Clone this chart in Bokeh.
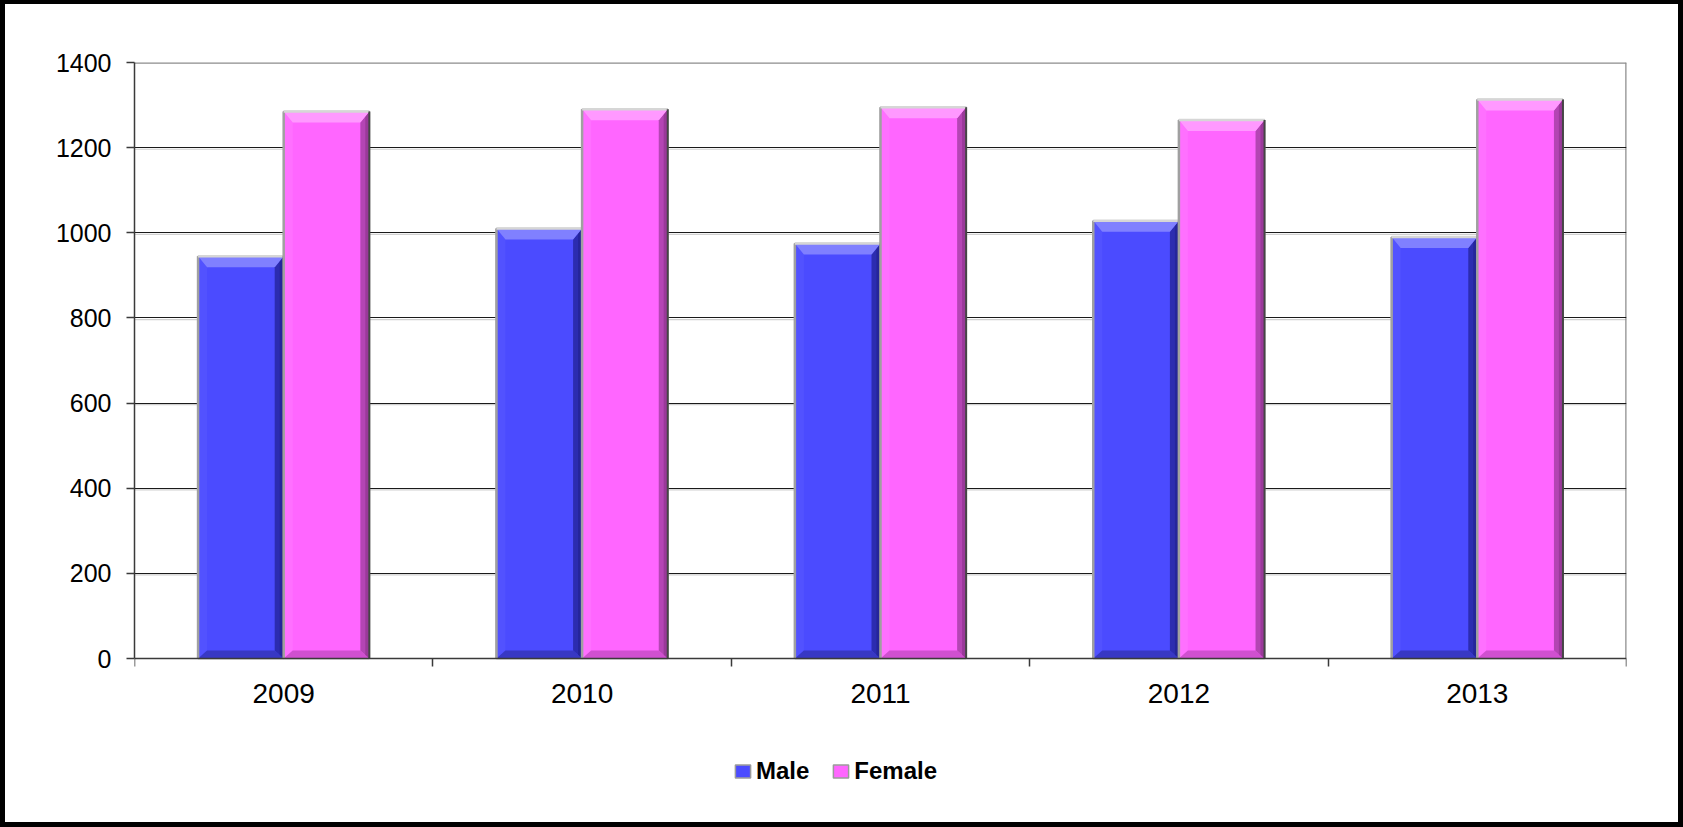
import numpy as np
from bokeh.plotting import figure
from bokeh.models import FixedTicker, Legend, LegendItem, Range1d
from bokeh.embed import file_html
from bokeh.resources import INLINE

# ---- data ----
years = ["2009", "2010", "2011", "2012", "2013"]
male = [945, 1010, 975, 1028, 990]
female = [1285, 1290, 1295, 1265, 1313]
y_ticks = [0, 200, 400, 600, 800, 1000, 1200, 1400]
series_names = ["Male", "Female"]

# ---- layout / styles ----
FONT = "Liberation Sans"
W, H = 1673, 818
ML, MR, MT = 129, 52, 58
PLOT_BOTTOM = 654          # canvas y of the value-0 line
BAR_W = 0.287
px_x = (W - ML - MR) / len(years)
px_y = (PLOT_BOTTOM - MT) / (y_ticks[-1] - y_ticks[0])
y_min = y_ticks[0] - (H - PLOT_BOTTOM) / px_y   # frame extends to canvas bottom (room for legend)

styles = {
    "Male": dict(main="#4B4BFF", top="#8080FF", right="#2C2CB0", bottom="#3838C4", left="#5252FF", dark="#1C1C80"),
    "Female": dict(main="#FF66FF", top="#FF99FF", right="#B445B4", bottom="#D050D0", left="#FF70FF", dark="#7A2A7A"),
}

p = figure(width=W, height=H, output_backend="svg", toolbar_location=None,
           x_range=Range1d(0, len(years)), y_range=Range1d(y_min, y_ticks[-1]),
           x_axis_location="above",
           min_border_left=ML, min_border_right=MR, min_border_top=MT, min_border_bottom=0,
           background_fill_color="white", border_fill_color="white")
p.styles = {"margin-left": "5px", "margin-top": "4px", "outline": "5px solid black"}
p.outline_line_color = None

# grid
p.xgrid.visible = False
p.ygrid.ticker = FixedTicker(ticks=y_ticks[1:-1])
p.ygrid.grid_line_color = "#1A1A1A"
p.ygrid.grid_line_width = 1.2
n_g = len(y_ticks) - 2
p.segment(x0=[0] * n_g, x1=[len(years)] * n_g,
          y0=[t - 1.6 / px_y for t in y_ticks[1:-1]], y1=[t - 1.6 / px_y for t in y_ticks[1:-1]],
          line_color="#D0D0D0", line_width=1.2, level="underlay")
# plot-area border (top and right)
p.segment(x0=[0, len(years)], y0=[y_ticks[-1], y_ticks[0]], x1=[len(years), len(years)],
          y1=[y_ticks[-1], y_ticks[-1]], line_color="#8C8C8C", line_width=2.5, level="underlay")

# y axis
ya = p.yaxis[0]
ya.ticker = FixedTicker(ticks=y_ticks)
ya.bounds = (y_ticks[0], y_ticks[-1])
ya.axis_line_color = "#3A3A3A"
ya.axis_line_width = 1.5
ya.major_tick_line_color = "#3A3A3A"
ya.major_tick_line_width = 1.5
ya.major_tick_in = 0
ya.major_tick_out = 8
ya.minor_tick_line_color = None
ya.major_label_text_font = FONT
ya.major_label_text_font_size = "25px"
ya.major_label_text_color = "black"
ya.major_label_standoff = 15

# x axis: drawn at value 0, ticks and labels pointing down
xa = p.xaxis[0]
centers = [i + 0.5 for i in range(len(years))]
xa.fixed_location = y_ticks[0]
xa.bounds = (0, len(years))
xa.ticker = FixedTicker(ticks=centers, minor_ticks=list(range(len(years) + 1)))
xa.major_label_overrides = {c: y for c, y in zip(centers, years)}
xa.axis_line_color = "#3A3A3A"
xa.axis_line_width = 1.5
xa.major_tick_line_color = None
xa.major_tick_out = 0
xa.major_tick_in = 0
xa.minor_tick_line_color = "#3A3A3A"
xa.minor_tick_line_width = 1.5
xa.minor_tick_in = 8
xa.minor_tick_out = 0
xa.major_label_text_font = FONT
xa.major_label_text_font_size = "28px"
xa.major_label_text_color = "black"
xa.major_label_standoff = -44

# ---- bars with bevel ----
dx = 9 / px_x
dy = 11 / px_y
dyb = 8 / px_y
legend_items = []
for k, (name, vals) in enumerate(zip(series_names, [male, female])):
    st = styles[name]
    x0 = np.array(centers) + (k - 1) * BAR_W
    x1 = x0 + BAR_W
    top = np.array(vals, dtype=float)
    bot = np.zeros_like(top)
    r = p.quad(left=x0, right=x1, bottom=bot, top=top, fill_color=st["main"],
               line_color="#9A9A9A", line_width=1.5)
    legend_items.append(LegendItem(label=name, renderers=[r]))
    top_xs = [[a, b, b - dx, a + dx] for a, b in zip(x0, x1)]
    top_ys = [[t, t, t - dy, t - dy] for t in top]
    right_xs = [[b, b, b - dx, b - dx] for b in x1]
    right_ys = [[t, 0, dyb, t - dy] for t in top]
    right2_xs = [[b, b, b - dx * 0.45, b - dx * 0.45] for b in x1]
    right2_ys = [[t, 0, dyb * 0.45, t - dy * 0.45] for t in top]
    bot_xs = [[a, b, b - dx, a + dx] for a, b in zip(x0, x1)]
    bot_ys = [[0, 0, dyb, dyb] for _ in top]
    left_xs = [[a, a, a + dx, a + dx] for a in x0]
    left_ys = [[0, t, t - dy, dyb] for t in top]
    p.patches(left_xs, left_ys, fill_color=st["left"], line_color=None)
    p.patches(bot_xs, bot_ys, fill_color=st["bottom"], line_color=None)
    p.patches(right_xs, right_ys, fill_color=st["right"], line_color=None)
    p.patches(right2_xs, right2_ys, fill_color=st["dark"], fill_alpha=0.45, line_color=None)
    p.patches(top_xs, top_ys, fill_color=st["top"], line_color=None)
    p.segment(x0=x0, y0=bot, x1=x0, y1=top, line_color="#A0A0A0", line_width=2.5)
    p.segment(x0=x0, y0=top, x1=x1, y1=top, line_color="#D6D6D6", line_width=2.5)
    p.segment(x0=x1, y0=bot, x1=x1, y1=top, line_color="#454545", line_width=2)

# ---- legend (inside the extended frame, below the axis) ----
legend = Legend(items=legend_items, orientation="horizontal", location=(599, 37),
                border_line_color=None, background_fill_alpha=0, padding=0, margin=0,
                spacing=22, label_standoff=4, glyph_width=19, glyph_height=16,
                label_text_font=FONT, label_text_font_style="bold",
                label_text_font_size="24px", label_text_color="black")
p.add_layout(legend)

open("out.html", "w").write(file_html(p, INLINE))
